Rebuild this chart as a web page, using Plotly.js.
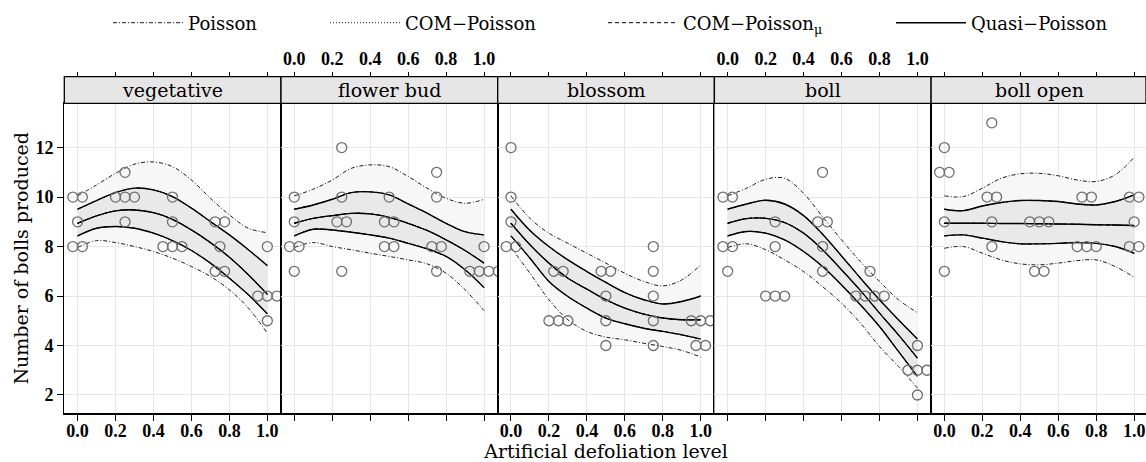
<!DOCTYPE html>
<html>
<head>
<meta charset="utf-8">
<script src="https://cdn.plot.ly/plotly-3.0.1.min.js"></script>
<style>html,body{margin:0;padding:0;background:#fff;}</style>
</head>
<body>
<div id="chart" style="width:1146px;height:462px;"></div>
<script>
// ---------------- data ----------------
const stages = ['vegetative', 'flower bud', 'blossom', 'boll', 'boll open'];
const defoliation = [0, 0.25, 0.5, 0.75, 1];

// observed number of bolls (5 plants per defoliation level)
const bollsVegetative = [[10, 10, 9, 8, 8], [11, 10, 10, 10, 9], [10, 9, 8, 8, 8], [9, 9, 8, 7, 7], [8, 6, 6, 6, 5]];
const bollsFlowerBud  = [[10, 9, 8, 8, 7], [12, 10, 9, 9, 7], [10, 9, 9, 8, 8], [11, 10, 8, 8, 7], [8, 7, 7, 7, 7]];
const bollsBlossom    = [[12, 10, 9, 8, 8], [7, 7, 5, 5, 5], [7, 7, 6, 5, 4], [8, 7, 6, 5, 4], [5, 5, 5, 4, 4]];
const bollsBoll       = [[10, 10, 8, 8, 7], [9, 8, 6, 6, 6], [11, 9, 9, 8, 7], [7, 6, 6, 6, 6], [4, 3, 3, 3, 2]];
const bollsBollOpen   = [[12, 11, 11, 9, 7], [13, 10, 10, 9, 8], [9, 9, 9, 7, 7], [10, 10, 8, 8, 8], [10, 10, 9, 8, 8]];
const bollsByStage = [bollsVegetative, bollsFlowerBud, bollsBlossom, bollsBoll, bollsBollOpen];

// fitted curves, read at these defoliation levels
const curveX = [0, 0.1, 0.2, 0.3, 0.4, 0.5, 0.6, 0.7, 0.8, 0.9, 1];
const fitted = [
  [8.94, 9.24, 9.44, 9.48, 9.37, 9.10, 8.67, 8.16, 7.57, 6.86, 6.07],
  [8.94, 9.14, 9.25, 9.34, 9.32, 9.18, 8.94, 8.65, 8.27, 7.84, 7.33],
  [8.94, 8.07, 7.33, 6.72, 6.28, 5.85, 5.51, 5.27, 5.11, 5.04, 5.04],
  [8.94, 9.13, 9.14, 8.97, 8.54, 7.87, 7.06, 6.22, 5.31, 4.43, 3.49],
  [8.94, 8.94, 8.94, 8.93, 8.93, 8.92, 8.91, 8.90, 8.88, 8.87, 8.85]
];
const quasiUpper = [
  [9.51, 9.86, 10.18, 10.36, 10.29, 10.02, 9.55, 9.01, 8.47, 7.87, 7.23],
  [9.51, 9.68, 9.91, 10.18, 10.21, 10.09, 9.72, 9.35, 8.94, 8.60, 8.47],
  [9.51, 8.65, 8.00, 7.46, 6.99, 6.55, 6.14, 5.85, 5.68, 5.78, 6.00],
  [9.51, 9.72, 9.87, 9.72, 9.25, 8.50, 7.62, 6.72, 5.85, 5.04, 4.26],
  [9.51, 9.45, 9.64, 9.78, 9.86, 9.86, 9.82, 9.72, 9.68, 9.82, 10.09]
];
const quasiLower = [
  [8.43, 8.74, 8.81, 8.74, 8.54, 8.24, 7.84, 7.33, 6.72, 6.05, 5.28],
  [8.43, 8.70, 8.67, 8.58, 8.47, 8.34, 8.13, 7.91, 7.60, 7.06, 6.34],
  [8.43, 7.53, 6.59, 5.98, 5.51, 5.11, 4.88, 4.70, 4.57, 4.43, 4.26],
  [8.43, 8.61, 8.54, 8.27, 7.80, 7.19, 6.45, 5.64, 4.77, 3.76, 2.75],
  [8.43, 8.47, 8.34, 8.20, 8.11, 8.11, 8.13, 8.16, 8.13, 8.00, 7.73]
];
const poissonUpper = [
  [10.05, 10.49, 10.96, 11.33, 11.42, 11.23, 10.69, 9.95, 9.28, 8.74, 8.56],
  [10.05, 10.32, 10.69, 11.16, 11.30, 11.23, 10.83, 10.36, 9.95, 9.75, 9.91],
  [10.05, 9.14, 8.54, 8.13, 7.73, 7.33, 6.92, 6.59, 6.41, 6.65, 7.26],
  [10.05, 10.36, 10.72, 10.76, 10.15, 9.21, 8.27, 7.39, 6.59, 5.85, 5.33],
  [10.05, 10.02, 10.36, 10.76, 10.94, 10.96, 10.86, 10.69, 10.63, 10.90, 11.61]
];
const poissonLower = [
  [7.96, 8.24, 8.16, 8.00, 7.80, 7.53, 7.19, 6.79, 6.25, 5.51, 4.50],
  [7.96, 8.16, 8.00, 7.87, 7.73, 7.60, 7.46, 7.30, 6.92, 6.25, 5.41],
  [7.96, 6.92, 5.85, 5.04, 4.57, 4.34, 4.23, 4.09, 3.96, 3.80, 3.53],
  [7.96, 8.11, 7.87, 7.46, 6.99, 6.38, 5.71, 4.90, 3.96, 3.15, 2.28],
  [7.93, 8.00, 7.73, 7.46, 7.30, 7.26, 7.33, 7.43, 7.46, 7.19, 6.76]
];
// the COM-Poisson intervals coincide with the quasi-Poisson ones in the figure
const comUpper = quasiUpper, comLower = quasiLower;
const comMuUpper = quasiUpper, comMuLower = quasiLower;

const modelNames = ['Poisson', 'COM\u2212Poisson', 'COM\u2212Poisson<sub>\u03bc</sub>', 'Quasi\u2212Poisson'];
const xTickVals = [0, 0.2, 0.4, 0.6, 0.8, 1];
const xTickText = ['0.0', '0.2', '0.4', '0.6', '0.8', '1.0'];
const yTickVals = [2, 4, 6, 8, 10, 12];

// ---------------- layout helpers ----------------
const W = 1146, H = 462;
const panelLeftPx = 64.3, panelWpx = 216.7;
const xr = [-0.07, 1.072];
const pxPerUnit = panelWpx / (xr[1] - xr[0]);
const yDom = [1 - 413.3 / H, 1 - 103.3 / H];
const stripTop = 1 - 76.7 / H;
const serif = 'DejaVu Serif';
const tickFont = {family: 'Liberation Serif', size: 18, color: '#000', weight: 'bold'};

const styles = [
  {color: '#000', width: 0.9, dash: '4px,2px,1px,2px'},
  {color: '#000', width: 0.9, dash: '1px,2px'},
  {color: '#000', width: 1.0, dash: '4px,3px'},
  {color: '#000', width: 1.4, dash: 'solid'}
];
const modelLo = [poissonLower, comLower, comMuLower, quasiLower];
const modelHi = [poissonUpper, comUpper, comMuUpper, quasiUpper];
const legendIds = ['legend', 'legend2', 'legend3', 'legend4'];

// spread tied observations horizontally (deterministic)
function spreadPoints(levels, counts) {
  const xs = [], ys = [];
  levels.forEach((lv, j) => {
    const vals = counts[j];
    const tally = {}, seen = {};
    vals.forEach(v => { tally[v] = (tally[v] || 0) + 1; });
    vals.forEach(v => {
      const n = tally[v];
      const k = seen[v] = (seen[v] === undefined ? 0 : seen[v] + 1);
      xs.push(lv + (k - (n - 1) / 2) * 0.05);
      ys.push(v);
    });
  });
  return {xs, ys};
}

const traces = [];
const layout = {
  width: W, height: H,
  margin: {l: 0, r: 0, t: 0, b: 0},
  paper_bgcolor: '#fff', plot_bgcolor: '#fff',
  font: {family: serif, color: '#000'},
  showlegend: true,
  shapes: [], annotations: []
};

stages.forEach((stage, i) => {
  const sfx = i === 0 ? '' : String(i + 1);
  const xa = 'x' + sfx, ya = 'y' + sfx;
  const left = panelLeftPx + i * panelWpx;
  let right = left + panelWpx;
  let xmax = xr[1];
  if (right > W) { xmax = xr[0] + (W - left) / pxPerUnit; right = W; }
  const d0 = left / W, d1 = right / W;

  // bands
  const bandPairs = [[poissonLower[i], poissonUpper[i], '#f7f7f7'], [quasiLower[i], quasiUpper[i], '#e9e9e9']];
  bandPairs.forEach(([lo, hi, col]) => {
    traces.push({x: curveX, y: lo, xaxis: xa, yaxis: ya, mode: 'lines', line: {width: 0, shape: 'spline'},
      showlegend: false, hoverinfo: 'skip'});
    traces.push({x: curveX, y: hi, xaxis: xa, yaxis: ya, mode: 'lines', line: {width: 0, shape: 'spline'},
      fill: 'tonexty', fillcolor: col, showlegend: false, hoverinfo: 'skip'});
  });

  // model lines
  modelNames.forEach((nm, m) => {
    const ln = Object.assign({shape: 'spline'}, styles[m]);
    traces.push({x: curveX, y: modelLo[m][i], xaxis: xa, yaxis: ya, mode: 'lines', line: ln,
      showlegend: false, name: nm, hoverinfo: 'skip'});
    traces.push({x: curveX, y: fitted[i], xaxis: xa, yaxis: ya, mode: 'lines', line: ln,
      showlegend: false, name: nm, hoverinfo: 'skip'});
    traces.push({x: curveX, y: modelHi[m][i], xaxis: xa, yaxis: ya, mode: 'lines', line: ln,
      showlegend: i === 0, legend: legendIds[m], name: nm, hoverinfo: 'skip'});
  });

  // observations
  const pts = spreadPoints(defoliation, bollsByStage[i]);
  traces.push({x: pts.xs, y: pts.ys, xaxis: xa, yaxis: ya, mode: 'markers', showlegend: false,
    marker: {symbol: 'circle-open', size: 10, color: '#6e6e6e', line: {width: 1.3}}, name: stage});

  // top tick axis (above the strip)
  const topId = 'x' + (i + 6);
  traces.push({x: [null], y: [null], xaxis: topId, yaxis: ya, mode: 'markers', showlegend: false, hoverinfo: 'skip'});

  layout['xaxis' + sfx] = {
    domain: [d0, d1], range: [xr[0], xmax], anchor: ya,
    tickvals: xTickVals, ticktext: xTickText, showticklabels: i % 2 === 0,
    ticks: 'outside', ticklen: 6, tickwidth: 1, tickcolor: '#000', ticklabelstandoff: -5,
    showgrid: true, gridcolor: '#e6e6e6', gridwidth: 1, zeroline: false,
    showline: true, mirror: true, linecolor: '#000', linewidth: 1.2,
    tickfont: tickFont, automargin: false
  };
  layout['xaxis' + (i + 6)] = {
    overlaying: xa, side: 'top', anchor: 'free', position: stripTop,
    range: [xr[0], xmax], tickvals: xTickVals, ticktext: xTickText, showticklabels: i % 2 === 1,
    ticks: 'outside', ticklen: 5, tickwidth: 1, tickcolor: '#000',
    showgrid: false, zeroline: false, showline: false, tickfont: tickFont, automargin: false
  };
  layout['yaxis' + sfx] = {
    domain: yDom, range: [1.26, 13.79], anchor: xa,
    tickvals: yTickVals, showticklabels: i === 0, ticks: i === 0 ? 'outside' : '',
    ticklen: 6, tickwidth: 1, tickcolor: '#000',
    showgrid: true, gridcolor: '#e6e6e6', gridwidth: 1, zeroline: false,
    showline: true, mirror: true, linecolor: '#000', linewidth: 1.2,
    tickfont: tickFont, automargin: false
  };

  // strip
  layout.shapes.push({type: 'rect', xref: 'paper', yref: 'paper', x0: d0, x1: d1, y0: yDom[1], y1: stripTop,
    fillcolor: '#e6e6e6', line: {color: '#000', width: 1.3}});
  layout.annotations.push({xref: 'paper', yref: 'paper', x: (d0 + (left + panelWpx) / W) / 2, y: (yDom[1] + stripTop) / 2,
    xanchor: 'center', yanchor: 'middle', showarrow: false, text: stage,
    font: {family: serif, size: 19, color: '#000'}});
});

layout.xaxis3.title = {text: 'Artificial defoliation level', font: {family: serif, size: 19, color: '#000'}, standoff: 4};
layout.yaxis.title = {text: 'Number of bolls produced', font: {family: serif, size: 19, color: '#000'}, standoff: 1};

const legendTextX = [190, 407, 685, 973];
legendIds.forEach((id, m) => {
  layout[id] = {
    orientation: 'h', x: (legendTextX[m] - 82) / W, xanchor: 'left', y: 1 - 23 / H, yanchor: 'middle',
    itemwidth: 70, bgcolor: 'rgba(0,0,0,0)', borderwidth: 0,
    font: {family: serif, size: 18, color: '#000'}
  };
});

Plotly.newPlot('chart', traces, layout, {staticPlot: true, displayModeBar: false});
</script>
</body>
</html>
